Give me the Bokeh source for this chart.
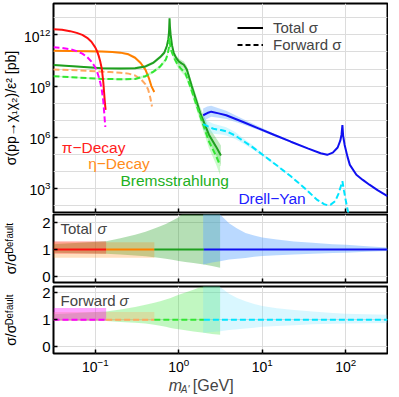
import numpy as np
from bokeh.plotting import figure
from bokeh.models import Range1d, FixedTicker, LogTickFormatter, Label, Legend, LegendItem
from bokeh.layouts import column
from bokeh.embed import file_html
from bokeh.resources import INLINE

FONT = "Liberation Sans"

# ---------------- data (mass in GeV, cross sections as log10(sigma/pb)) ----------------
pi_m = [0.0316, 0.04, 0.05, 0.06, 0.07, 0.08, 0.09, 0.10, 0.105, 0.11, 0.115, 0.12, 0.125, 0.13, 0.133]
pi_total = [12.33, 12.30, 12.22, 12.12, 12.00, 11.83, 11.60, 11.27, 11.05, 10.77, 10.42, 10.00, 9.20, 8.10, 7.60]
pi_band = [0.03, 0.03, 0.03, 0.03, 0.03, 0.03, 0.03, 0.03, 0.03, 0.03, 0.03, 0.03, 0.03, 0.03, 0.03]
pif_m = [0.0316, 0.04, 0.05, 0.06, 0.07, 0.08, 0.09, 0.10, 0.105, 0.11, 0.115, 0.12, 0.125, 0.13, 0.132]
pi_fwd = [11.27, 11.23, 11.16, 11.05, 10.90, 10.70, 10.43, 10.10, 9.85, 9.55, 9.20, 8.75, 8.10, 7.00, 6.60]

eta_m = [0.0316, 0.05, 0.08, 0.12, 0.16, 0.20, 0.25, 0.30, 0.35, 0.40, 0.44, 0.47, 0.509]
eta_total = [11.07, 11.06, 11.04, 11.02, 11.00, 10.96, 10.86, 10.66, 10.35, 9.95, 9.45, 9.00, 8.65]
eta_band = [0.04, 0.04, 0.04, 0.05, 0.06, 0.07, 0.08, 0.08, 0.08, 0.08, 0.08, 0.08, 0.08]
etaf_m = [0.0316, 0.06, 0.10, 0.15, 0.20, 0.25, 0.30, 0.35, 0.40, 0.43, 0.455, 0.478]
eta_fwd = [9.97, 9.93, 9.87, 9.82, 9.78, 9.73, 9.62, 9.42, 9.10, 8.80, 8.35, 7.80]

brem_m = [0.0316, 0.06, 0.12, 0.2, 0.3, 0.4, 0.5, 0.6, 0.67, 0.72, 0.75, 0.765, 0.776, 0.785,
          0.8, 0.83, 0.87, 0.93, 1.0, 1.08, 1.15, 1.25, 1.43, 1.8, 2.3, 2.8, 3.2]
brem_total = [10.24, 10.15, 10.05, 10.03, 10.05, 10.15, 10.38, 10.70, 10.95, 11.35, 11.75, 12.20, 12.97, 12.45,
              12.00, 11.40, 10.95, 10.65, 10.45, 10.33, 10.25, 9.97, 9.00, 7.45, 6.15, 5.45, 4.93]
brem_band = [0.04, 0.04, 0.05, 0.06, 0.07, 0.08, 0.09, 0.10, 0.11, 0.12, 0.12, 0.13, 0.13, 0.13,
             0.13, 0.14, 0.15, 0.16, 0.17, 0.18, 0.19, 0.21, 0.25, 0.32, 0.42, 0.50, 0.58]
bremf_m = [0.0316, 0.06, 0.12, 0.2, 0.3, 0.4, 0.5, 0.6, 0.7, 0.74, 0.765, 0.776, 0.79, 0.81,
           0.84, 0.9, 0.96, 1.05, 1.2, 1.37, 1.8, 2.3, 2.8, 3.13]
brem_fwd = [9.58, 9.50, 9.42, 9.40, 9.42, 9.58, 9.85, 10.15, 10.55, 10.90, 11.30, 11.81, 11.35, 11.10,
            10.90, 10.55, 10.30, 10.05, 9.75, 9.00, 7.26, 5.75, 4.90, 4.35]
bremf_band = [0.04, 0.04, 0.05, 0.06, 0.07, 0.08, 0.09, 0.10, 0.11, 0.12, 0.12, 0.13, 0.13, 0.13,
              0.14, 0.15, 0.16, 0.18, 0.20, 0.23, 0.30, 0.40, 0.50, 0.58]

dy_m = [1.96, 2.2, 2.45, 3.0, 3.7, 5.8, 9.0, 14, 22, 35, 50, 60, 70, 80, 86, 89, 91.2, 93, 97,
        105, 112, 134, 160, 192, 240, 316]
dy_total = [7.29, 7.42, 7.50, 7.40, 7.29, 6.91, 6.52, 6.13, 5.74, 5.35, 5.06, 4.97, 5.10, 5.40, 5.80, 6.15,
            6.71, 6.10, 5.55, 4.85, 4.38, 3.80, 3.50, 3.22, 2.90, 2.55]
dy_band_up = [0.40, 0.38, 0.35, 0.30, 0.26, 0.18, 0.12, 0.08, 0.05, 0.03, 0.02, 0.02, 0.02, 0.02, 0.02, 0.02,
              0.02, 0.02, 0.02, 0.02, 0.02, 0.02, 0.02, 0.02, 0.02, 0.02]
dy_band_dn = [0.35, 0.33, 0.30, 0.26, 0.22, 0.15, 0.10, 0.07, 0.05, 0.03, 0.02, 0.02, 0.02, 0.02, 0.02, 0.02,
              0.02, 0.02, 0.02, 0.02, 0.02, 0.02, 0.02, 0.02, 0.02, 0.02]
dyf_m = [1.96, 2.2, 2.6, 3.2, 3.7, 4.8, 5.3, 7.5, 10.8, 15.5, 22, 32, 45, 55, 60, 66, 75, 82, 87,
         91.2, 95, 100, 107, 115]
dy_fwd = [6.77, 6.65, 6.50, 6.42, 6.35, 6.09, 5.94, 5.45, 4.87, 4.29, 3.71, 3.03, 2.35, 2.08, 2.02, 2.05,
          2.26, 2.70, 3.10, 3.42, 2.90, 2.30, 1.58, 1.00]
dyf_band = [0.35, 0.32, 0.29, 0.26, 0.24, 0.20, 0.18, 0.12, 0.08, 0.06, 0.04, 0.03, 0.02, 0.02, 0.02, 0.02,
            0.02, 0.02, 0.02, 0.02, 0.02, 0.02, 0.02, 0.02]

# ratio panels: sigma / sigma_default bands
pi_r_x = [0.0316, 0.135]
pi_r_lo = [0.85, 0.85]
pi_r_hi = [1.31, 1.31]
eta_r_x = [0.0316, 0.51]
eta_r_lo = [0.70, 0.70]
eta_r_hi = [1.27, 1.27]
brem_r_x = [0.0316, 0.135, 0.2, 0.3, 0.4, 0.51, 0.6, 0.7, 0.8, 0.9, 1.0, 1.2, 1.5, 2.0, 2.5, 3.13]
brem_r_lo = [0.88, 0.85, 0.82, 0.78, 0.75, 0.72, 0.69, 0.66, 0.63, 0.60, 0.58, 0.54, 0.50, 0.45, 0.39, 0.33]
brem_r_hi = [1.20, 1.31, 1.42, 1.55, 1.66, 1.78, 1.86, 1.95, 2.04, 2.12, 2.20, 2.45, 2.90, 3.50, 4.00, 4.50]
dy_r_x = [1.96, 2.5, 3.13, 4.0, 5.0, 6.3, 8.0, 10, 15, 24, 40, 70, 100, 180, 316]
dy_r_lo = [0.45, 0.52, 0.57, 0.63, 0.66, 0.69, 0.73, 0.76, 0.79, 0.82, 0.85, 0.87, 0.88, 0.92, 0.95]
dy_r_hi = [3.50, 2.80, 2.30, 1.98, 1.78, 1.61, 1.52, 1.45, 1.37, 1.30, 1.25, 1.20, 1.18, 1.12, 1.08]

pif_r_lo = [0.97, 0.97]
pif_r_hi = [1.43, 1.43]
etaf_r_lo = [0.95, 0.95]
etaf_r_hi = [1.28, 1.28]
bremf_r_lo = [0.97, 0.95, 0.92, 0.89, 0.86, 0.82, 0.78, 0.74, 0.70, 0.67, 0.65, 0.61, 0.57, 0.52, 0.48, 0.45]
bremf_r_hi = [1.20, 1.30, 1.38, 1.47, 1.55, 1.62, 1.68, 1.74, 1.80, 1.86, 1.92, 2.00, 2.10, 2.25, 2.50, 2.80]
dyf_r_lo = [0.52, 0.55, 0.58, 0.62, 0.65, 0.68, 0.71, 0.74, 0.77, 0.80, 0.83, 0.85, 0.86, 0.87, 0.88]
dyf_r_hi = [3.50, 2.80, 2.20, 1.95, 1.80, 1.68, 1.58, 1.50, 1.42, 1.36, 1.30, 1.25, 1.22, 1.20, 1.18]

# default-ratio line segments (mass ranges where each process dominates)
seg_pi = [0.0316, 0.135]
seg_eta = [0.135, 0.51]
seg_brem = [0.51, 2.0]
seg_dy = [2.0, 316]
ratio_one = [1.0, 1.0]

x_major = [0.1, 1, 10, 100]
top_ticks = [1e3, 1e6, 1e9, 1e12]
top_grid = [1e2, 1e3, 1e4, 1e5, 1e6, 1e7, 1e8, 1e9, 1e10, 1e11, 1e12, 1e13]
ratio_ticks = [0, 1, 2]

# ---------------- colours ----------------
C_RED = "#ff1010"
C_MAG = "#ff00ff"
C_ORA = "#ff8000"
C_ORA_L = "#ffa860"
C_GRN = "#1f9f1f"
C_GRN_L = "#33e633"
C_BLU = "#1010f0"
C_CYA = "#00e5ff"

W = 388
LEFT = 49
x_range = Range1d(10 ** -1.5, 10 ** 2.5)


def make_fig(height, y_type, y_range, top, bottom, show_x_labels):
    p = figure(width=W, height=height, x_axis_type="log", y_axis_type=y_type,
               x_range=x_range, y_range=y_range, output_backend="svg",
               toolbar_location=None, min_border_left=LEFT, min_border_right=1,
               min_border_top=top, min_border_bottom=bottom)
    p.background_fill_color = "white"
    p.border_fill_color = "white"
    p.outline_line_color = "black"
    p.outline_line_width = 2
    p.outline_line_alpha = 1
    for ax in (p.xaxis[0], p.yaxis[0]):
        ax.axis_line_color = None
        ax.major_tick_in = 4
        ax.major_tick_out = 0
        ax.minor_tick_in = 0
        ax.minor_tick_out = 0
        ax.major_tick_line_color = "black"
        ax.major_tick_line_width = 1.5
        ax.major_label_text_font = FONT
        ax.major_label_text_font_size = "14px"
        ax.major_label_text_color = "black"
        ax.axis_label_text_font = FONT
        ax.axis_label_text_font_size = "14px"
        ax.axis_label_text_font_style = "normal"
        ax.axis_label_text_color = "black"
    p.xaxis.ticker = FixedTicker(ticks=x_major, minor_ticks=[])
    p.xaxis.formatter = LogTickFormatter()
    if not show_x_labels:
        p.xaxis.major_label_text_font_size = "1px"
        p.xaxis.major_label_text_alpha = 0
        p.xaxis.major_label_standoff = 0
    else:
        p.xaxis.major_label_standoff = 4
    p.xgrid.ticker = FixedTicker(ticks=x_major)
    p.xgrid.grid_line_color = "#dcdcdc"
    p.ygrid.grid_line_color = "#dcdcdc"
    return p


def sig(a):
    return 10 ** np.asarray(a, dtype=float)


# ---------------- top panel ----------------
top = make_fig(213, "log", Range1d(10 ** 1.59, 10 ** 13.84), 3, 1, False)
top.yaxis.ticker = FixedTicker(ticks=top_ticks, minor_ticks=[])
top.yaxis.formatter = LogTickFormatter()
top.ygrid.ticker = FixedTicker(ticks=top_grid)
top.yaxis.axis_label = "σ(pp→χ₁χ₂)/ε² [pb]"
top.yaxis.axis_label_standoff = 2
top.yaxis.major_label_standoff = 3

def band(p, x, c, up, dn, color, alpha):
    c = np.asarray(c, dtype=float)
    p.varea(x=x, y1=10 ** (c - np.asarray(dn)), y2=10 ** (c + np.asarray(up)),
            fill_color=color, fill_alpha=alpha)

band(top, pi_m, pi_total, pi_band, pi_band, "#ff4040", 0.15)
band(top, eta_m, eta_total, eta_band, eta_band, "#ff9933", 0.2)
band(top, brem_m, brem_total, brem_band, brem_band, "#33bb33", 0.3)
band(top, bremf_m, brem_fwd, bremf_band, bremf_band, "#55ee55", 0.3)
band(top, dy_m, dy_total, dy_band_up, dy_band_dn, "#66aaff", 0.4)
band(top, dyf_m, dy_fwd, dyf_band, dyf_band, "#80e8ff", 0.35)

DASH = "6 3"
top.line(x=eta_m, y=sig(eta_total), line_color=C_ORA, line_width=2)
top.line(x=etaf_m, y=sig(eta_fwd), line_color=C_ORA_L, line_width=2, line_dash=DASH)
top.line(x=brem_m, y=sig(brem_total), line_color=C_GRN, line_width=2)
top.line(x=bremf_m, y=sig(brem_fwd), line_color=C_GRN_L, line_width=2, line_dash=DASH)
top.line(x=pi_m, y=sig(pi_total), line_color=C_RED, line_width=2)
top.line(x=pif_m, y=sig(pi_fwd), line_color=C_MAG, line_width=2, line_dash=DASH)
top.line(x=dy_m, y=sig(dy_total), line_color=C_BLU, line_width=2)
top.line(x=dyf_m, y=sig(dy_fwd), line_color=C_CYA, line_width=2, line_dash=DASH)

r_tot = top.line(x=[1.0], y=[1e1], line_color="black", line_width=2)
r_fwd = top.line(x=[1.0], y=[1e1], line_color="black", line_width=2, line_dash="5 3")
legend = Legend(items=[LegendItem(label="Total σ", renderers=[r_tot]),
                       LegendItem(label="Forward σ", renderers=[r_fwd])],
                location=(184, 159), border_line_color=None, background_fill_alpha=0,
                padding=0, margin=0, spacing=0, glyph_width=26, glyph_height=17,
                label_height=17, label_standoff=10, label_text_font=FONT,
                label_text_font_size="15px")
top.add_layout(legend)

for txt, xx, yy, col in [("π−Decay", 0.0397, 5.41, "#ff2020"),
                         ("η−Decay", 0.0822, 4.48, "#ff8c1a"),
                         ("Bremsstrahlung", 0.20, 3.44, "#22b022"),
                         ("Drell−Yan", 5.18, 2.39, "#2020ff")]:
    top.add_layout(Label(x=xx, y=10 ** yy, text=txt, text_color=col, text_font=FONT,
                         text_font_size="15.5px", text_baseline="middle", text_align="left"))

# ---------------- ratio panels ----------------
def ratio_panel(height, yr, top_b, bottom_b, show_x, entries, lines, title, sigma_dx):
    p = make_fig(height, "linear", yr, top_b, bottom_b, show_x)
    p.yaxis.ticker = FixedTicker(ticks=ratio_ticks, minor_ticks=[])
    p.ygrid.ticker = FixedTicker(ticks=ratio_ticks)
    p.yaxis.axis_label = "σ/σᴰᵉᶠᵃᵘˡᵗ"
    p.yaxis.axis_label_standoff = 20
    p.yaxis.major_label_standoff = 3
    p.yaxis.major_label_text_font_size = "15px"
    for x, lo, hi, col, al in entries:
        p.varea(x=x, y1=lo, y2=hi, fill_color=col, fill_alpha=al)
    for x, col, dash in lines:
        p.line(x=x, y=ratio_one, line_color=col, line_width=2, line_dash=dash)
    p.add_layout(Label(x=x_range.start, y=yr.end, x_offset=7, y_offset=-14, text=title,
                       text_font=FONT, text_font_size="15px", text_baseline="middle"))
    p.add_layout(Label(x=x_range.start, y=yr.end, x_offset=sigma_dx, y_offset=-14, text="σ",
                       text_font=FONT, text_font_size="15px", text_font_style="italic",
                       text_baseline="middle"))
    return p

mid = ratio_panel(71, Range1d(-0.22, 2.3), 1, 2, False,
                  [(brem_r_x, brem_r_lo, brem_r_hi, C_GRN, 0.33),
                   (dy_r_x, dy_r_lo, dy_r_hi, "#66aaff", 0.45),
                   (eta_r_x, eta_r_lo, eta_r_hi, C_ORA, 0.25),
                   (pi_r_x, pi_r_lo, pi_r_hi, C_RED, 0.3)],
                  [(seg_pi, C_RED, "solid"), (seg_eta, C_ORA, "solid"),
                   (seg_brem, C_GRN, "solid"), (seg_dy, C_BLU, "solid")], "Total", 44)

bot = ratio_panel(92, Range1d(-0.24, 2.22), 2, 23, True,
                  [(brem_r_x, bremf_r_lo, bremf_r_hi, C_GRN_L, 0.3),
                   (dy_r_x, dyf_r_lo, dyf_r_hi, "#66e0ff", 0.25),
                   (eta_r_x, etaf_r_lo, etaf_r_hi, C_ORA_L, 0.3),
                   (pi_r_x, pif_r_lo, pif_r_hi, C_MAG, 0.35)],
                  [(seg_pi, C_MAG, DASH), (seg_eta, C_ORA_L, DASH),
                   (seg_brem, C_GRN_L, DASH), (seg_dy, C_CYA, DASH)], "Forward", 66)

# ---------------- x-axis title strip: m_{A'} [GeV] ----------------
xt = figure(width=W, height=18, x_axis_type="log", x_range=x_range, y_range=Range1d(0, 1),
            output_backend="svg", toolbar_location=None, x_axis_location=None,
            y_axis_location=None, min_border_left=LEFT, min_border_right=1,
            min_border_top=0, min_border_bottom=0)
xt.outline_line_color = None
xt.xgrid.visible = False
xt.ygrid.visible = False
xt.add_layout(Label(x=1.0, y=0.5, x_offset=-10, text="m", text_font=FONT,
                    text_font_size="16px", text_font_style="italic", text_baseline="middle"))
xt.add_layout(Label(x=1.0, y=0.5, x_offset=2, y_offset=-4, text="A'", text_font=FONT,
                    text_font_size="10px", text_font_style="italic", text_baseline="middle"))
xt.add_layout(Label(x=1.0, y=0.5, x_offset=14, text="[GeV]", text_font=FONT,
                    text_font_size="16px", text_baseline="middle"))

layout = column(top, mid, bot, xt, spacing=0)
open("out.html", "w").write(file_html(layout, INLINE))
